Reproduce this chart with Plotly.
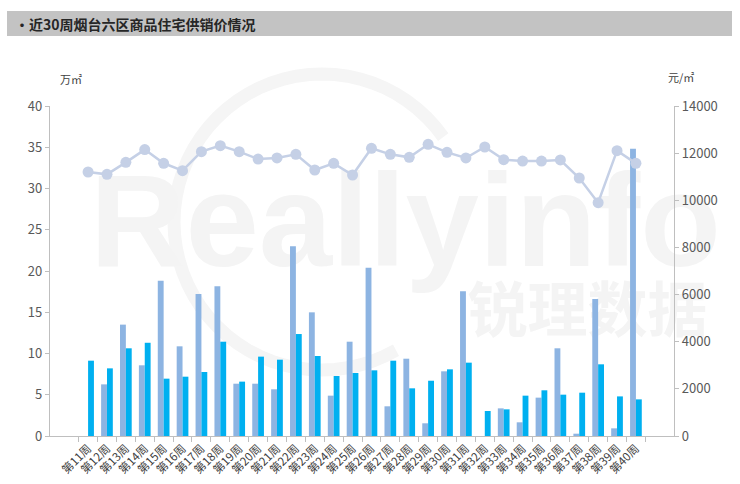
import math
import plotly.graph_objects as go

weeks = [f"第{i}周" for i in range(11, 41)]
supply = [0, 6.26, 13.5, 8.57, 18.83, 10.87, 17.2, 18.14, 6.34, 6.34,
          5.66, 22.99, 14.99, 4.89, 11.43, 20.4, 3.6, 9.37, 1.54, 7.84,
          17.54, 0, 3.35, 1.66, 4.65, 10.63, 0.28, 16.6, 0.93, 34.83]
sales = [9.13, 8.2, 10.63, 11.3, 6.95, 7.19, 7.76, 11.43, 6.59, 9.62,
         9.25, 12.36, 9.7, 7.27, 7.64, 7.96, 9.13, 5.78, 6.7, 8.08,
         8.89, 3.03, 3.23, 4.89, 5.54, 5.01, 5.25, 8.69, 4.8, 4.44]
price = [11200, 11100, 11610, 12150, 11570, 11257, 12063, 12317, 12063, 11750,
         11795, 11950, 11285, 11568, 11073, 12204, 11950, 11822, 12374, 12034,
         11795, 12261, 11725, 11666, 11666, 11710, 10945, 9899, 12105, 11567]

W, H = 740, 484
L, R, T, B = 50, 674, 106, 436
FONT = "Microsoft YaHei, Noto Sans CJK SC, sans-serif"


def px(x):
    return (x - L) / (R - L)


def py(y):
    return (B - y) / (B - T)


fig = go.Figure()
fig.add_trace(go.Bar(x=weeks, y=supply, name="供应面积", marker=dict(color="#8DB4E2", line=dict(width=0)), yaxis="y"))
fig.add_trace(go.Bar(x=weeks, y=sales, name="成交面积", marker=dict(color="#00B0F0", line=dict(width=0)), yaxis="y"))
fig.add_trace(go.Scatter(x=weeks, y=price, name="成交均价", mode="lines+markers", yaxis="y2",
                         line=dict(color="#C5D0E6", width=2.5),
                         marker=dict(color="#C5D0E6", size=11)))

shapes = []
# watermark arc
cx, cy, r = 322, 222, 148
pts = []
for a in range(35, 301, 5):
    t = math.radians(a)
    pts.append((px(cx + r * math.cos(t)), py(cy - r * math.sin(t))))
path = "M " + " L ".join(f"{a:.4f},{b:.4f}" for a, b in pts)
shapes.append(dict(type="path", path=path, xref="paper", yref="paper", layer="below",
                   line=dict(color="#f5f5f5", width=13)))
# watermark text
shapes.append(dict(type="rect", xref="paper", yref="paper", layer="below",
                   x0=px(88), x1=px(723), y0=py(282), y1=py(132),
                   line=dict(width=0), fillcolor="rgba(0,0,0,0)",
                   label=dict(text="<b>Reallyinfo</b>", font=dict(size=132, color="#f4f4f4", family="Arial, Liberation Sans"),
                              textposition="middle center")))
shapes.append(dict(type="rect", xref="paper", yref="paper", layer="below",
                   x0=px(450), x1=px(725), y0=py(345), y1=py(285),
                   line=dict(width=0), fillcolor="rgba(0,0,0,0)",
                   label=dict(text="<b>锐理数据</b>", font=dict(size=60, color="#f4f4f4", family="Noto Sans CJK SC"),
                              textposition="middle center")))
# title bar
shapes.append(dict(type="rect", xref="paper", yref="paper", layer="below",
                   x0=px(7), x1=px(732), y0=py(36), y1=py(11),
                   line=dict(width=0), fillcolor="#c3c3c3"))

annotations = [
    dict(text="<b>•近30周烟台六区商品住宅供销价情况</b>", xref="paper", yref="paper",
         x=px(13), y=py(23.5), xanchor="left", yanchor="middle", showarrow=False,
         font=dict(size=14, color="#262626", family=FONT)),
    dict(text="万㎡", xref="paper", yref="paper", x=px(58), y=py(79), xanchor="left", yanchor="middle",
         showarrow=False, font=dict(size=11, color="#404040", family=FONT)),
    dict(text="元/㎡", xref="paper", yref="paper", x=px(666), y=py(77), xanchor="left", yanchor="middle",
         showarrow=False, font=dict(size=11, color="#404040", family=FONT)),
]

axis_common = dict(showgrid=False, zeroline=False, showline=True, linecolor="#bfbfbf", linewidth=1.3,
                   ticks="outside", ticklen=4, tickcolor="#bfbfbf", automargin=False,
                   tickfont=dict(size=13, color="#595959", family=FONT))

fig.update_layout(
    width=W, height=H, template="none",
    margin=dict(l=L, r=W - R, t=T, b=H - B, autoexpand=False),
    paper_bgcolor="white", plot_bgcolor="rgba(0,0,0,0)",
    showlegend=False, barmode="group", bargap=0.38, bargroupgap=0,
    font=dict(family=FONT),
    xaxis=dict(type="category", tickson="boundaries", tickangle=-45, showgrid=False, zeroline=False,
               showline=True, linecolor="#bfbfbf", linewidth=1.3, ticks="outside", ticklen=5,
               tickcolor="#bfbfbf", automargin=False,
               tickfont=dict(size=11.5, color="#404040", family=FONT)),
    yaxis=dict(range=[0, 40], dtick=5, **axis_common),
    yaxis2=dict(range=[0, 14000], dtick=2000, tickformat="d", overlaying="y", side="right", **axis_common),
    shapes=shapes, annotations=annotations,
)

fig.write_html("out.html", config={"displayModeBar": False},
               post_script="document.body.style.margin='0';document.body.style.padding='0';")
